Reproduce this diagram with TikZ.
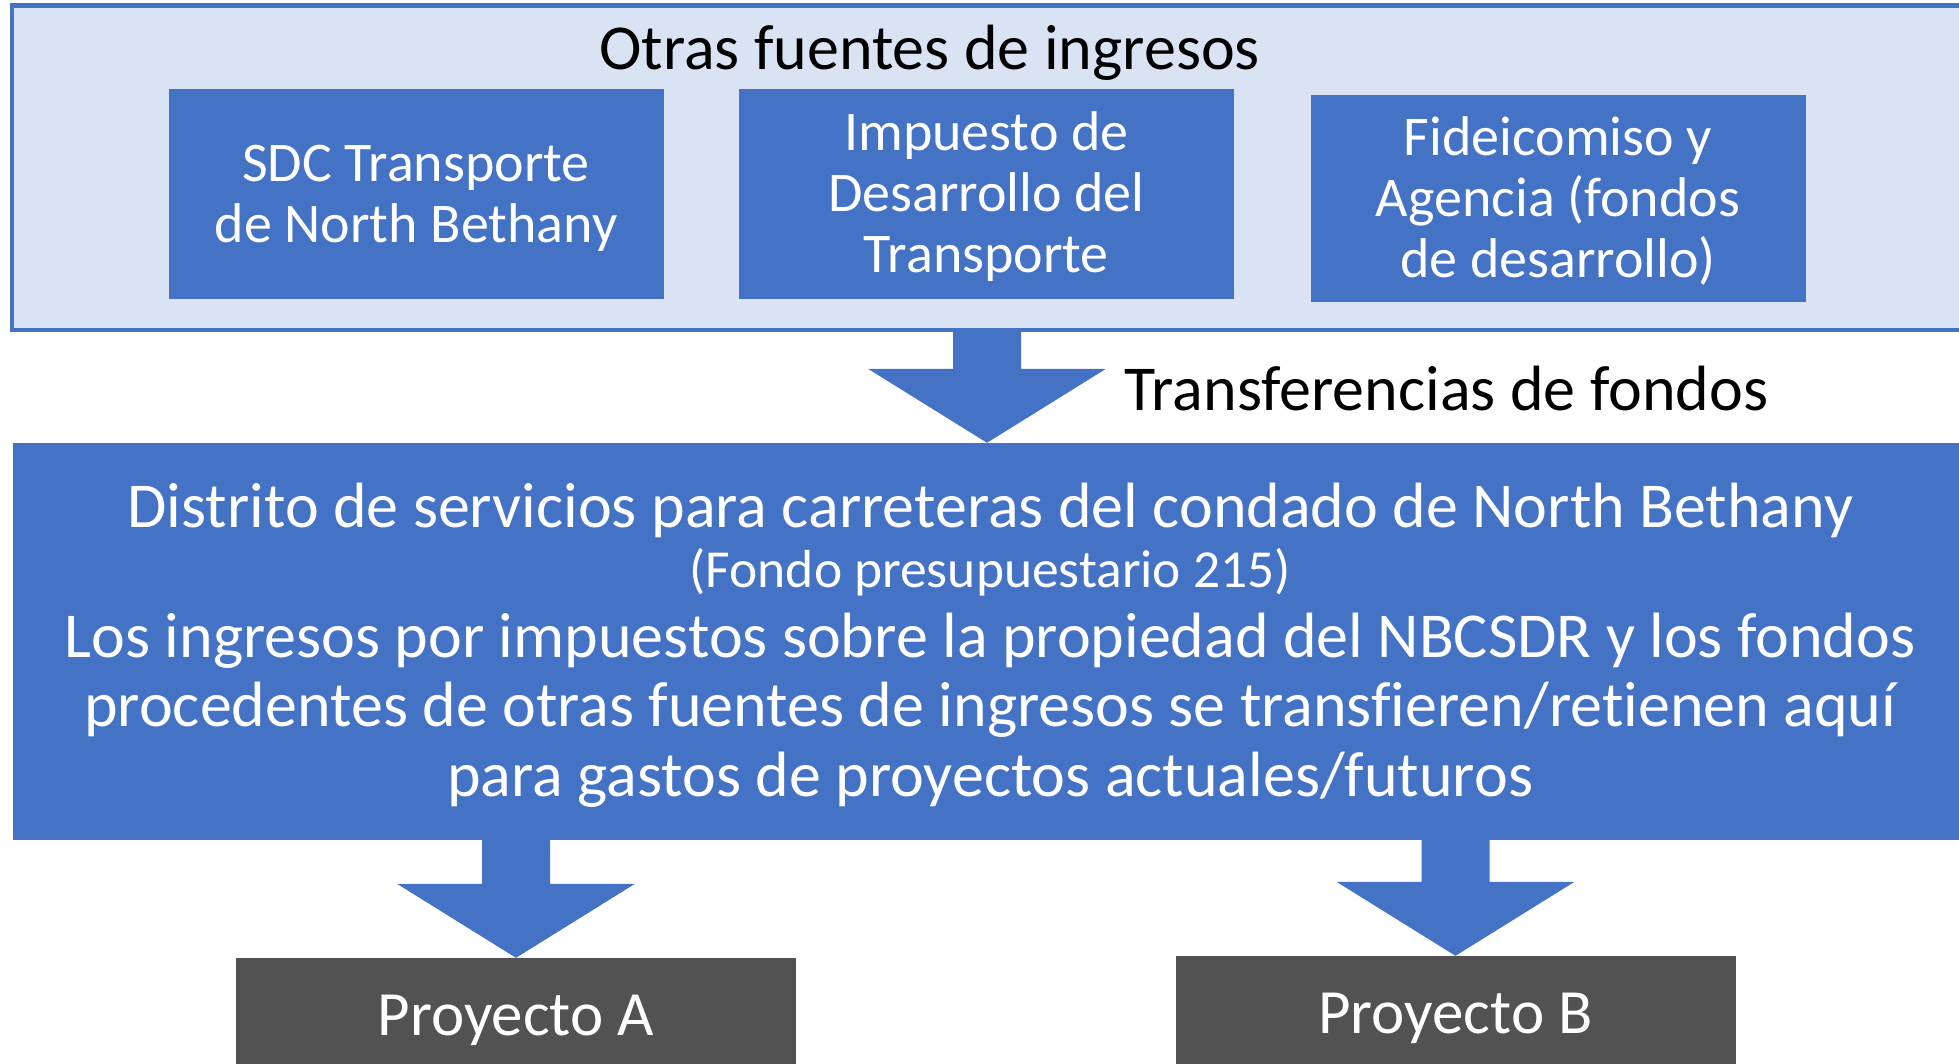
\documentclass[tikz,border=0pt]{standalone}
\usepackage{fontspec}
\setmainfont[Ligatures=NoCommon]{Carlito}
\usetikzlibrary{calc}
\definecolor{ablue}{HTML}{4472C4}
\definecolor{alight}{HTML}{DAE3F3}
\definecolor{agray}{HTML}{525252}
\newcommand\blockarr[2]{%
  \fill[ablue] let \p1=(#1), \p2=(#2) in
    (\x2-34pt,\y1) -- (\x2+34pt,\y1) -- (\x2+34pt,\y2+74pt) -- (\x2+119pt,\y2+74pt)
    -- (\x2,\y2) -- (\x2-119pt,\y2+74pt) -- (\x2-34pt,\y2+74pt) -- cycle;}
\begin{document}
\begin{tikzpicture}[x=1pt,y=-1pt,
  srcbox/.style={rectangle, fill=ablue, minimum width=495pt, minimum height=210pt, inner sep=0pt},
  srctext/.style={text=white, align=center, inner sep=0pt, font=\fontsize{56}{61}\selectfont},
  projbox/.style={rectangle, fill=agray, minimum width=560pt, minimum height=115pt, inner sep=0pt},
  projtext/.style={text=white, inner sep=0pt, font=\fontsize{63}{68}\selectfont},
  plain/.style={inner sep=0pt, text=black, font=\fontsize{64}{69}\selectfont}]
\useasboundingbox (0,0) rectangle (1959,1064);
% outer container
\node[rectangle, draw=ablue, fill=alight, line width=4.5pt, minimum width=1958pt, minimum height=324.5pt,
  inner sep=0pt] (outer) at (991,167.75) {};
\node[plain, anchor=base] (title) at (929.5,70) {Otras fuentes de ingresos};
\node[srcbox] (sdc) at (416,193.6) {};
\node[srctext] (sdcT) at ($(sdc.center)+(0,4.5)$) {SDC Transporte\\de North Bethany};
\node[srcbox] (idt) at (986.4,193.6) {};
\node[srctext] (idtT) at ($(idt.center)+(0,2.5)$) {Impuesto de\\Desarrollo del\\Transporte};
\node[srcbox, minimum height=207pt] (fid) at (1558,198.7) {};
\node[srctext] (fidT) at ($(fid.center)+(0,2.5)$) {Fideicomiso y\\Agencia (fondos\\de desarrollo)};
% district box
\node[rectangle, fill=ablue, minimum width=1955.5pt, minimum height=396.6pt, inner sep=0pt] (dist) at (990.25,641.3) {};
\node[text=white, inner sep=0pt, align=center, font=\fontsize{64}{69.5}\selectfont] (distT)
  at ($(dist.center)+(0,3.5)$)
  {Distrito de servicios para carreteras del condado de North Bethany\\[-9pt]
   {\fontsize{53.5}{58}\selectfont (Fondo presupuestario 215)}\\
   Los ingresos por impuestos sobre la propiedad del NBCSDR y los fondos\\
   procedentes de otras fuentes de ingresos se transfieren/retienen aquí\\
   para gastos de proyectos actuales/futuros};
\node[plain, anchor=base west] (transf) at (1124.5,410) {Transferencias de fondos};
% projects
\node[projbox] (pa) at (516,1015.5) {};
\node[projtext] (paT) at ($(pa.center)+(0,5)$) {Proyecto A};
\node[projbox] (pb) at (1455.5,1013.5) {};
\node[projtext] (pbT) at ($(pb.center)+(0,5)$) {Proyecto B};
% block arrows
\coordinate (a1x) at (987,0);
\blockarr{outer.south -| a1x}{dist.north -| a1x}
\blockarr{dist.south -| pa.north}{pa.north}
\blockarr{dist.south -| pb.north}{pb.north}
\end{tikzpicture}
\end{document}
